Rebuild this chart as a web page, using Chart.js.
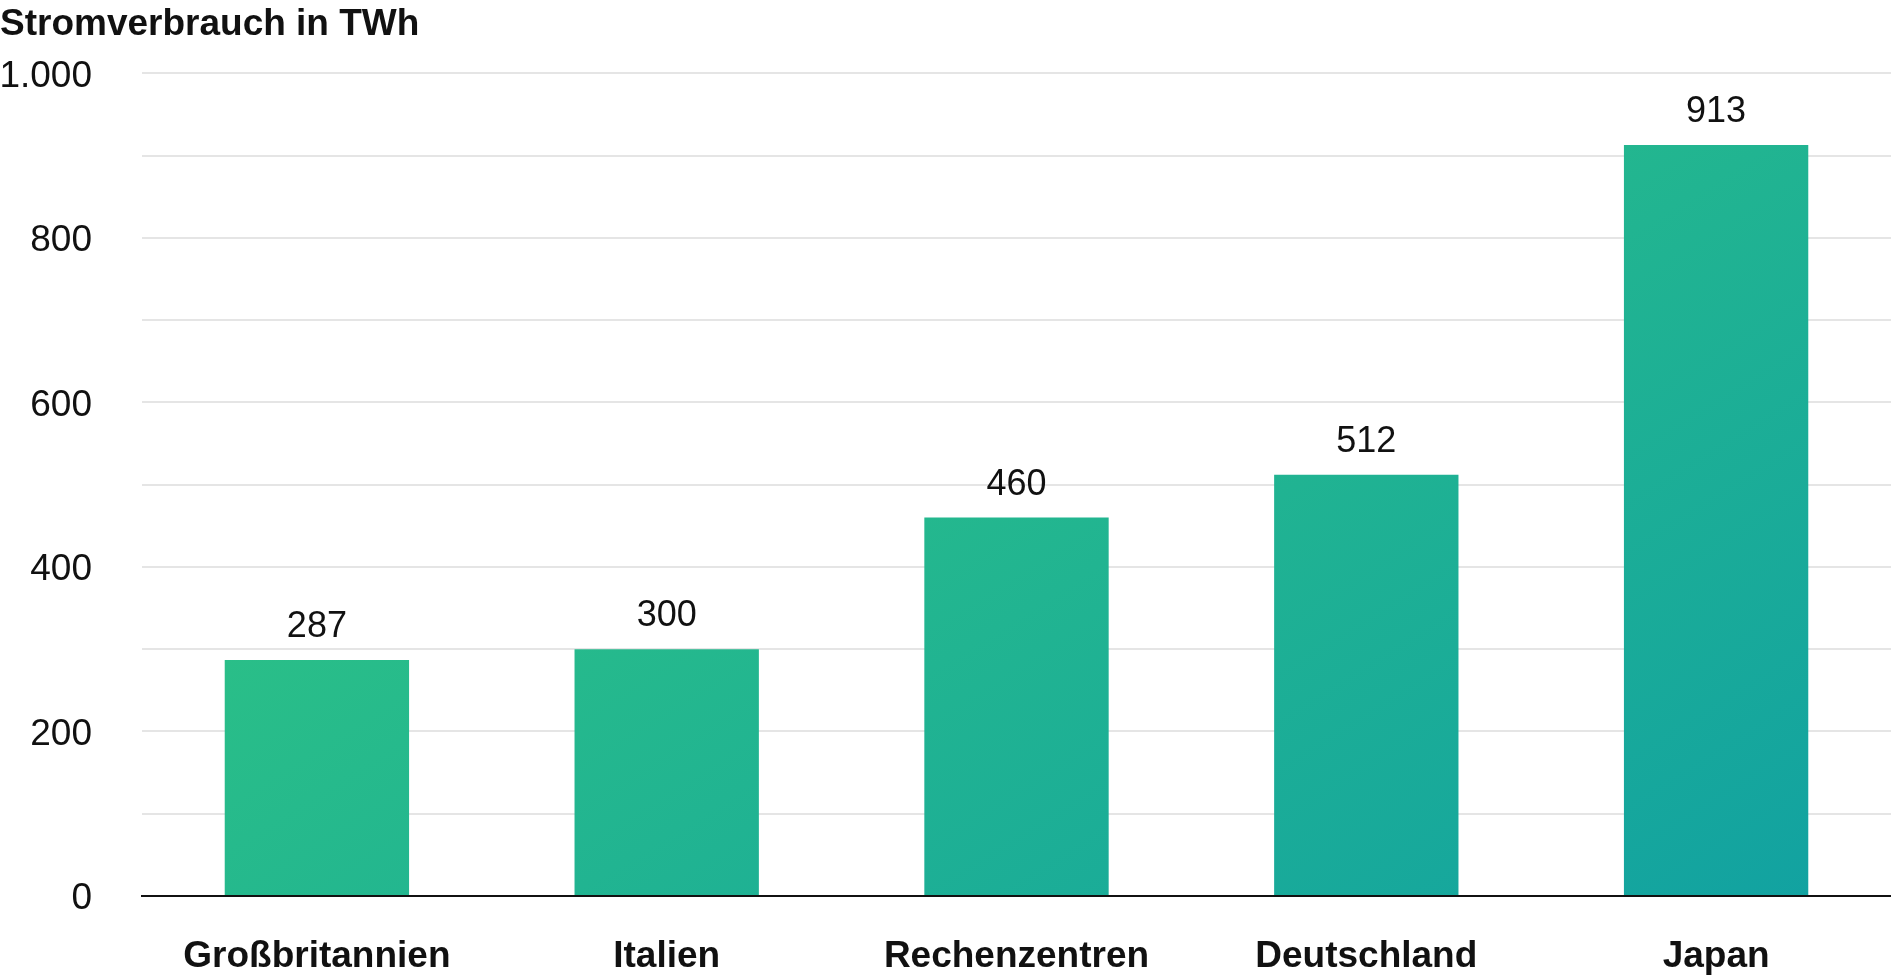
<!DOCTYPE html>
<html lang="de">
<head>
    <meta charset="UTF-8">
    <title>Stromverbrauch in TWh</title>
    <script src="https://cdn.jsdelivr.net/npm/chart.js"></script>
    <style>
        html, body { margin: 0; padding: 0; background: #fff; overflow: hidden; }
        #wrap { width: 1891px; height: 979px; }
    </style>
</head>
<body>
<div id="wrap">
    <canvas id="stromChart"></canvas>
</div>

<script>
    // Daten aus der Grafik
    const categories = ['Großbritannien', 'Italien', 'Rechenzentren', 'Deutschland', 'Japan'];
    const consumption = [287, 300, 460, 512, 913];
    const yMax = 1000;
    const yStep = 100;
    const labelEvery = 200;

    const fontFamily = '"Liberation Sans", Arial, sans-serif';

    // Verlauf grün -> petrol über die ganze Zeichenfläche
    function barGradient(context) {
        const chart = context.chart;
        const area = chart.chartArea;
        if (!area) return '#22b78c';
        const w = area.right - area.left;
        const h = area.bottom - area.top;
        const len = 0.53 * w + 0.848 * h;
        const g = chart.ctx.createLinearGradient(area.left, area.top,
            area.left + 0.53 * len, area.top + 0.848 * len);
        g.addColorStop(0, '#36cd7b');
        g.addColorStop(1, '#11a1a2');
        return g;
    }

    // Werte über den Balken
    const valueLabels = {
        id: 'valueLabels',
        afterDatasetsDraw(chart) {
            const ctx = chart.ctx;
            const meta = chart.getDatasetMeta(0);
            ctx.save();
            ctx.font = '36px ' + fontFamily;
            ctx.fillStyle = '#111';
            ctx.textAlign = 'center';
            ctx.textBaseline = 'alphabetic';
            meta.data.forEach((bar, i) => {
                ctx.fillText(String(consumption[i]), bar.x, bar.y - 23);
            });
            ctx.restore();
        }
    };

    const ctx = document.getElementById('stromChart').getContext('2d');
    const stromChart = new Chart(ctx, {
        type: 'bar',
        data: {
            labels: categories,
            datasets: [{
                data: consumption,
                backgroundColor: barGradient,
                borderWidth: 0,
                barPercentage: 0.527,
                categoryPercentage: 1
            }]
        },
        options: {
            responsive: true,
            maintainAspectRatio: false,
            animation: false,
            layout: { padding: 0 },
            plugins: {
                legend: { display: false },
                tooltip: { enabled: false },
                title: {
                    display: true,
                    text: 'Stromverbrauch in TWh',
                    align: 'start',
                    color: '#111',
                    font: { family: fontFamily, size: 37, weight: 'bold' },
                    padding: { top: 3, bottom: 26 }
                }
            },
            scales: {
                x: {
                    grid: { display: false, drawTicks: false },
                    border: { display: true, color: '#111', width: 2 },
                    ticks: {
                        color: '#111',
                        padding: 39,
                        maxRotation: 0,
                        font: { family: fontFamily, size: 37, weight: 'bold' }
                    },
                    afterFit: (scale) => { scale.height = 83; }
                },
                y: {
                    min: 0,
                    max: yMax,
                    border: { display: false },
                    grid: { color: '#e5e5e5', lineWidth: 2, drawTicks: false },
                    ticks: {
                        stepSize: yStep,
                        autoSkip: false,
                        color: '#111',
                        padding: 50,
                        labelOffset: 3,
                        font: { family: fontFamily, size: 37 },
                        callback: (value) => value % labelEvery === 0 ? value.toLocaleString('de-DE') : ''
                    },
                    afterFit: (scale) => { scale.width = 142; }
                }
            }
        },
        plugins: [valueLabels]
    });
</script>
</body>
</html>
